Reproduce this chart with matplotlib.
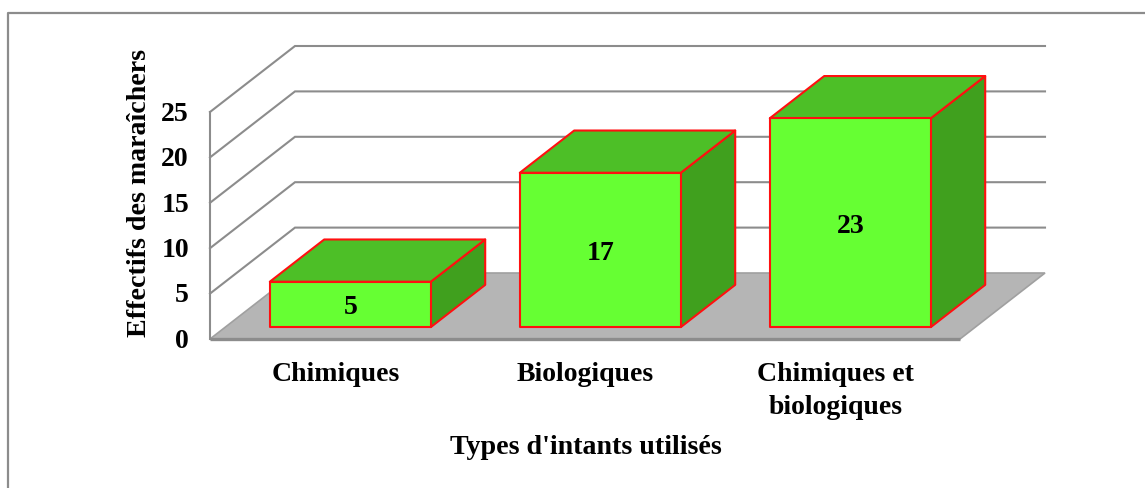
import matplotlib
matplotlib.use('Agg')
import matplotlib.pyplot as plt
from matplotlib.patches import Polygon

categories = ['Chimiques', 'Biologiques', 'Chimiques et\nbiologiques']
effectifs = [5, 17, 23]
y_ticks = [0, 5, 10, 15, 20, 25]

W, H = 1145, 488
GREY = '#8c8c8c'

# depth of the oblique view, in pixels for a depth of 1
DX, DY = 85, 66
PX_X = 250       # one category
PX_Y = 227 / 25  # one unit of the value axis
BAR_W = 0.644
D0, D1 = 0.18, 0.82

plt.rcParams['font.family'] = ['Liberation Serif', 'DejaVu Serif']
plt.rcParams['font.weight'] = 'bold'

fig = plt.figure(figsize=(W / 100, H / 100), dpi=100)
ax = fig.add_axes([210 / W, 1 - 339 / H, 750 / W, 227 / H])
ax.set_xlim(0, 3)
ax.set_ylim(0, 25)
ax.axis('off')


def proj(x, y, d):
    return x + d * DX / PX_X, y + d * DY / PX_Y


def poly(points, **kw):
    ax.add_patch(Polygon([proj(*p) for p in points], closed=True, clip_on=False, **kw))


# frame around the chart: top and left only
fig.add_artist(plt.Line2D([7.5 / W, 7.5 / W, 1], [0, 1 - 13 / H, 1 - 13 / H], color=GREY, lw=1.6))

# floor
poly([(0, 0, 0), (3, 0, 0), (3, 0, 1), (0, 0, 1)], facecolor='#b5b5b5', edgecolor='#a0a0a0', lw=1.2, zorder=1)
ax.plot([0, 3], [0, 0], color=GREY, lw=2.4, clip_on=False, zorder=2, solid_capstyle='butt')

# gridlines on the side wall and back wall
for t in y_ticks:
    if t > 0:
        xs, ys = zip(proj(0, t, 0), proj(0, t, 1), proj(3, t, 1))
        ax.plot(xs, ys, color=GREY, lw=1.5, clip_on=False, zorder=1, solid_joinstyle='miter')
ax.plot([0, 0], [0, 25], color=GREY, lw=1.5, clip_on=False, zorder=2)

# bars
for i, v in enumerate(effectifs):
    x0 = i + 0.5 - BAR_W / 2
    x1 = i + 0.5 + BAR_W / 2
    style = dict(edgecolor='#ff1010', lw=1.5, joinstyle='round', zorder=3)
    poly([(x1, 0, D0), (x1, 0, D1), (x1, v, D1), (x1, v, D0)], facecolor='#40a01e', **style)
    poly([(x0, v, D0), (x1, v, D0), (x1, v, D1), (x0, v, D1)], facecolor='#4dbf27', **style)
    poly([(x0, 0, D0), (x1, 0, D0), (x1, v, D0), (x0, v, D0)], facecolor='#66ff33', **style)
    lx, ly = proj(i + 0.5, v / 2, D0)
    ax.annotate(str(v), (lx, ly), xytext=(0, -2.5), textcoords='offset points', ha='center', va='center',
                fontsize=20, color='black', zorder=4)

# value labels on the axis
for t in y_ticks:
    ax.annotate(str(t), (0, t), xytext=(-21 * 0.72, -1.7), textcoords='offset points',
                ha='right', va='center', fontsize=20, annotation_clip=False)

# category labels
for i, c in enumerate(categories):
    ax.annotate(c, (i + 0.5, 0), xytext=(0.5 * 0.72, -23 * 0.72), textcoords='offset points',
                ha='center', va='top', fontsize=20, linespacing=1.4, annotation_clip=False)

fig.text(585.5 / W, 1 - 447 / H, "Types d'intants utilisés", ha='center', va='center', fontsize=20.2)
fig.text(140 / W, 1 - 193 / H, 'Effectifs des maraîchers', ha='center', va='center',
         rotation=90, fontsize=20.2)

fig.savefig('out.png', dpi=100)
